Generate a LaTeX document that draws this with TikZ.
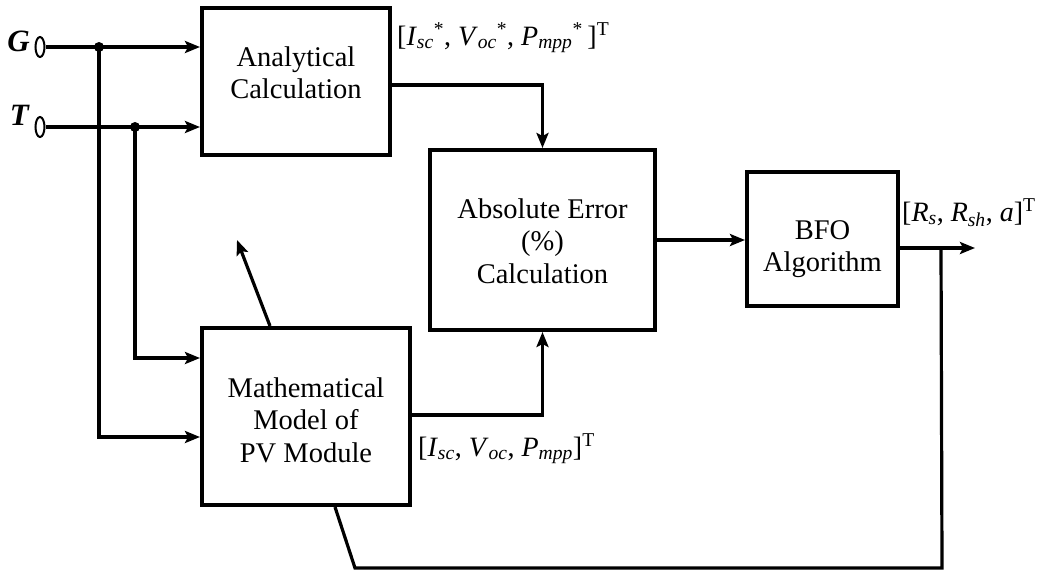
\documentclass[tikz,border=0pt]{standalone}
\usepackage{fontspec}
\setmainfont{Liberation Serif}
\usetikzlibrary{arrows.meta,calc,shapes.geometric}
\newcommand{\isub}[1]{\textsubscript{\textit{#1}}}
\begin{document}
\begin{tikzpicture}[x=1pt,y=-1pt,
  conn/.style={line width=3.2pt},
  arr/.style={conn,-{Stealth[length=15pt,width=12pt,inset=3pt]}},
  blockbox/.style={draw,line width=4pt,rectangle,inner sep=0pt},
  blocktext/.style={align=center,inner sep=0pt,font=\fontsize{28.5}{32.5}\selectfont},
  lbl/.style={inner sep=0pt,font=\fontsize{28}{32}\selectfont},
  inlbl/.style={inner sep=0pt,font=\fontsize{31}{34}\selectfont\bfseries\itshape,anchor=base east},
  term/.style={draw,line width=2pt,ellipse,minimum width=9pt,minimum height=20pt,inner sep=0pt},
  junction/.style={circle,fill,inner sep=0pt,minimum size=10pt}]
\useasboundingbox (0,0) rectangle (1040,571);
% blocks
\node[blockbox,minimum width=188pt,minimum height=147pt] (ana) at (296,81.5) {};
\node[blocktext] (anat) at (296,72.5) {Analytical\\Calculation};
\node[blockbox,minimum width=225pt,minimum height=180pt] (abs) at (542.5,240) {};
\node[blocktext] (abst) at (542.5,241) {Absolute Error\\(\%)\\Calculation};
\node[blockbox,minimum width=151pt,minimum height=134pt] (bfo) at (822.5,239) {};
\node[blocktext] (bfot) at (822.5,249) {BFO\\Algorithm};
\node[blockbox,minimum width=208pt,minimum height=177pt] (mm) at (306,416.5) {};
\node[blocktext] (mmt) at (306,420) {Mathematical\\Model of\\PV Module};
% terminals
\node[term] (gt) at (40,47) {};
\node[term] (tt) at (40,127) {};
\node[inlbl] (gl) at (30,51) {G};
\node[inlbl] (tl) at (29,125) {T};
\coordinate (gdot) at (99,47);
\coordinate (tdot) at (135,127);
\node[junction] (gj) at (gdot) {};
\node[junction] (tj) at (tdot) {};
% inputs
\draw[arr] (gt.east) -- (gt.east -| ana.west);
\draw[arr] (tt.east) -- (tt.east -| ana.west);
\draw[arr] (gj.center) |- ($(mm.west)+(0,20.5)$);
\draw[arr] (tj.center) |- ($(mm.west)+(0,-58.5)$);
% block connections
\draw[arr] ($(ana.east)+(0,3.5)$) -| (abs.north);
\draw[arr] ($(mm.east)+(0,-1.5)$) -| (abs.south);
\draw[arr] (abs.east) -- (bfo.west |- abs.east);
\coordinate (out) at (975,248);
\draw[arr] ($(bfo.east)+(0,9)$) -- (out);
% feedback
\coordinate (fb) at (941,248);
\coordinate (fbc) at (942,568);
\coordinate (fbl) at (355,568);
\coordinate (fbin) at ($(mm.south)+(29,0)$);
\draw[conn,line join=miter] (fb) -- (fbc) -- (fbl) -- (fbin);
\coordinate (adjs) at ($(mm.north)+(-36,0)$);
\coordinate (adje) at (237,240);
\draw[arr] (adjs) -- (adje);
% labels
\node[lbl,anchor=base west] (l1) at (397,45) {[\textit{I}\isub{sc}\textsuperscript{*}, \textit{V}\isub{oc}\textsuperscript{*}, \textit{P}\isub{mpp}\textsuperscript{*}\,]\textsuperscript{T}};
\node[lbl,anchor=base west] (l2) at (418,456) {[\textit{I}\isub{sc}, \textit{V}\isub{oc}, \textit{P}\isub{mpp}]\textsuperscript{T}};
\node[lbl,anchor=base west] (l3) at (902,221) {[\textit{R}\isub{s}, \textit{R}\isub{sh}, \textit{a}]\textsuperscript{T}};
\end{tikzpicture}
\end{document}
